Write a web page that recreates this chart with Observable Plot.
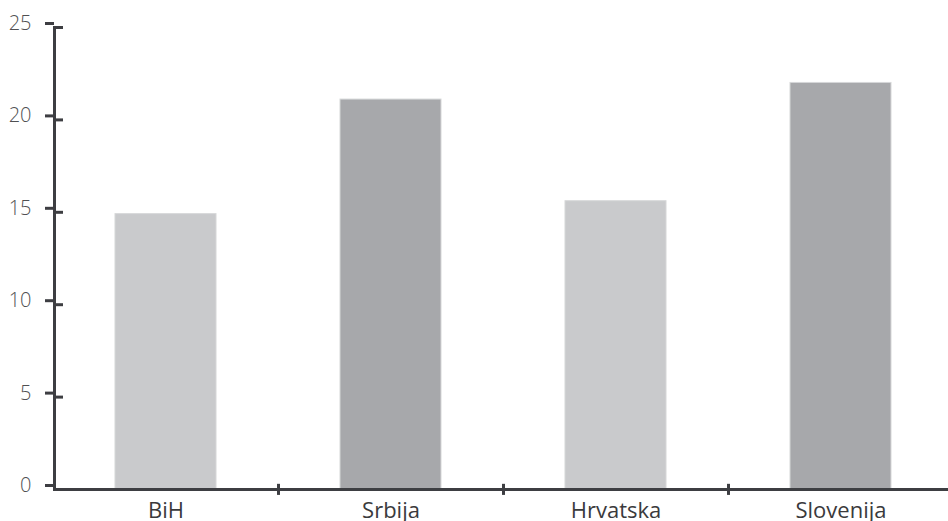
<!DOCTYPE html>
<html>
<head>
<meta charset="utf-8">
<script src="https://cdn.jsdelivr.net/npm/d3@7"></script>
<script src="https://cdn.jsdelivr.net/npm/@observablehq/plot@0.6"></script>
<style>
  html, body { margin: 0; padding: 0; background: #fff; }
  #chart svg { display: block; }
</style>
</head>
<body>
<div id="chart"></div>
<script>
const categories = ["BiH", "Srbija", "Hrvatska", "Slovenija"];
const values = [14.9, 21.1, 15.6, 22.0];
const shades = ["light", "dark", "light", "dark"];
const yTicks = [0, 5, 10, 15, 20, 25];

const data = categories.map((c, i) => ({category: c, value: values[i], shade: shades[i]}));
const axisColor = "#3d3e42";

const chart = Plot.plot({
  width: 948,
  height: 521,
  marginLeft: 54,
  marginRight: 0,
  marginTop: 27,
  marginBottom: 32,
  style: {fontFamily: "'Open Sans', sans-serif", background: "#fff", overflow: "visible"},
  x: {domain: categories, range: [53, 953], paddingInner: 0.55, paddingOuter: 0.275, align: 0.5},
  y: {domain: [0, 25], ticks: yTicks},
  color: {domain: ["light", "dark"], range: ["#c9cacc", "#a7a8ab"]},
  marks: [
    Plot.barY(data, {x: "category", y: "value", fill: "shade", stroke: "#d6d7d8", strokeWidth: 1}),
    Plot.ruleY([0], {stroke: axisColor, strokeWidth: 3}),
    Plot.frame({anchor: "left", stroke: axisColor, strokeWidth: 3}),
    Plot.axisY(yTicks, {tickSize: 9, tickPadding: 14, stroke: axisColor, strokeWidth: 3, fontSize: 20, fill: "#505052", fontWeight: 300, dy: -4, label: null}),
    Plot.axisY(yTicks, {tickSize: 9, tickPadding: 0, stroke: axisColor, strokeWidth: 3, text: null, dx: 9, label: null}),
    Plot.ruleX(categories.slice(0, 3), {x: d => d, dx: 112.5, y1: -0.32, y2: 0.28, stroke: axisColor, strokeWidth: 3}),
    Plot.axisX({tickSize: 0, tickPadding: 13, fontSize: 22, fill: "#3a3a3c", label: null})
  ]
});
document.getElementById("chart").appendChild(chart);
</script>
</body>
</html>
